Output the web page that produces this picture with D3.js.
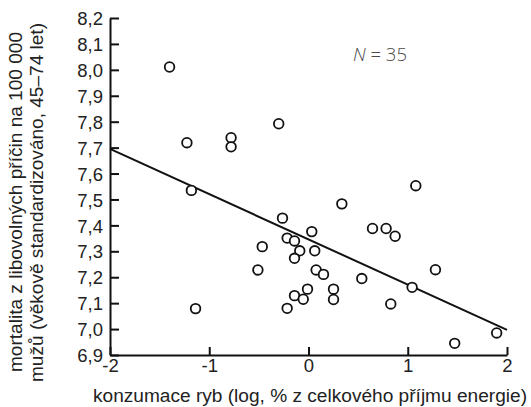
<!DOCTYPE html>
<html><head><meta charset="utf-8">
<script src="https://cdn.jsdelivr.net/npm/d3@7"></script>
<style>body{margin:0;background:#fff}svg{display:block}</style>
</head><body>
<svg id="c" width="531" height="407"></svg>
<script>
const fishLog = [-1.40,-1.225,-0.78,-0.78,-0.30,-1.18,-0.262,-0.466,-0.215,-0.141,-0.088,-0.141,0.033,0.063,-0.51,0.077,-0.01,-0.141,-0.053,-0.215,-1.138,1.081,0.336,0.645,0.782,0.873,0.151,0.537,1.279,0.252,0.252,1.044,0.829,1.473,1.896];
const mortality = [8.011,7.719,7.738,7.703,7.792,7.535,7.428,7.318,7.351,7.340,7.302,7.273,7.376,7.302,7.228,7.228,7.154,7.129,7.115,7.080,7.079,7.553,7.483,7.388,7.388,7.358,7.211,7.195,7.229,7.154,7.114,7.161,7.097,6.945,6.985];
const fitX = [-2, 2];
const fitY = [7.695, 6.997];
const xTicks = [-2,-1,0,1,2];
const yTicks = [6.9,7.0,7.1,7.2,7.3,7.4,7.5,7.6,7.7,7.8,7.9,8.0,8.1,8.2];
const yLabel = ["mortalita z libovolných příčin na 100 000","mužů (věkově standardizováno, 45–74 let)"];
const xLabel = "konzumace ryb (log, % z celkového příjmu energie)";
const nLabel = ["N", " = 35"];

const svg = d3.select("#c");
const font = "'Liberation Sans', Arial, Helvetica, sans-serif";
const x = d3.scaleLinear().domain([-2,2]).range([110,507]);
const y = d3.scaleLinear().domain([6.9,8.2]).range([355,18]);

const fmt = d => d3.format(".1f")(d).replace(".", ",");

const gy = svg.append("g").attr("transform","translate(110,0)")
  .call(d3.axisLeft(y).tickValues(yTicks).tickFormat(fmt).tickSizeInner(-9).tickSizeOuter(0).tickPadding(7));
const gx = svg.append("g").attr("transform","translate(0,355)")
  .call(d3.axisBottom(x).tickValues(xTicks).tickFormat(d=>d3.format("d")(d).replace("−","-")).tickSizeInner(-8).tickSizeOuter(0).tickPadding(4));
[gx,gy].forEach(g=>{
  g.select(".domain").attr("stroke","#111").attr("stroke-width",2);
  g.selectAll(".tick line").attr("stroke","#111").attr("stroke-width",2);
  g.selectAll(".tick text").attr("fill","#222").style("font-family",font).style("font-size","18.5px");
});
gy.selectAll(".tick text").attr("dy","0.36em");

// regression line
svg.append("path")
  .datum(fitX.map((v,i)=>[v,fitY[i]]))
  .attr("d", d3.line().x(d=>x(d[0])).y(d=>y(d[1])))
  .attr("fill","none").attr("stroke","#111").attr("stroke-width",2);

// points
svg.append("g").selectAll("circle").data(fishLog.map((v,i)=>[v,mortality[i]]))
  .join("circle")
  .attr("cx",d=>x(d[0])).attr("cy",d=>y(d[1])).attr("r",4.8)
  .attr("fill","#fff").attr("stroke","#111").attr("stroke-width",1.8);

// y label
const yl = svg.append("g").style("font-family",font).style("font-size","17.5px").attr("fill","#222");
yl.append("text").attr("transform","translate(22,202) rotate(-90)").attr("text-anchor","middle")
  .attr("textLength",340).attr("lengthAdjust","spacingAndGlyphs").text(yLabel[0]);
yl.append("text").attr("transform","translate(43,202.5) rotate(-90)").attr("text-anchor","middle")
  .attr("textLength",359).attr("lengthAdjust","spacingAndGlyphs").text(yLabel[1]);

// x label
svg.append("text").attr("x",310).attr("y",402).attr("text-anchor","middle")
  .attr("textLength",434).attr("lengthAdjust","spacingAndGlyphs")
  .style("font-family",font).style("font-size","17.5px").attr("fill","#222").text(xLabel);

// N = 35
const nt = svg.append("text").attr("x",353).attr("y",61)
  .style("font-family","'Open Sans', sans-serif").style("font-size","18.5px").style("font-weight",300).attr("fill","#4a4a4a");
nt.append("tspan").style("font-style","italic").text(nLabel[0]);
nt.append("tspan").text(nLabel[1]);
</script>
</body></html>
